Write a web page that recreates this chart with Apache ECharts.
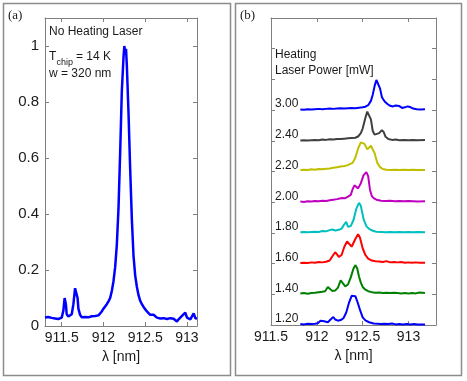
<!DOCTYPE html>
<html>
<head>
<meta charset="utf-8">
<script src="https://cdn.jsdelivr.net/npm/echarts@6/dist/echarts.min.js"></script>
<style>
  html, body { margin: 0; padding: 0; background: #fff; }
  #chart { width: 467px; height: 381px; }
</style>
</head>
<body>
<div id="chart"></div>
<script>
// panel (a): spectrum without heating laser
const leftXTicks = [911.5, 912, 912.5, 913]
const leftYTicks = [0, 0.2, 0.4, 0.6, 0.8, 1]
const noHeating = [
  [911.30, 0.030], [911.32, 0.026], [911.34, 0.032], [911.36, 0.025], [911.38, 0.029],
  [911.40, 0.023], [911.42, 0.027], [911.44, 0.021], [911.46, 0.025], [911.48, 0.028],
  [911.50, 0.030], [911.52, 0.055], [911.535, 0.100], [911.55, 0.078], [911.56, 0.042],
  [911.58, 0.034], [911.60, 0.037], [911.62, 0.042], [911.64, 0.078], [911.66, 0.135],
  [911.675, 0.140], [911.69, 0.100], [911.70, 0.062], [911.72, 0.040], [911.74, 0.031],
  [911.76, 0.037], [911.78, 0.032], [911.80, 0.036], [911.82, 0.031], [911.84, 0.029],
  [911.86, 0.035], [911.88, 0.031], [911.90, 0.036], [911.92, 0.033], [911.94, 0.038],
  [911.96, 0.044], [911.98, 0.052], [912.00, 0.062], [912.02, 0.070], [912.04, 0.078],
  [912.06, 0.088], [912.08, 0.100], [912.10, 0.125], [912.12, 0.160], [912.14, 0.210],
  [912.16, 0.290], [912.18, 0.420], [912.20, 0.620], [912.22, 0.840], [912.24, 0.960],
  [912.25, 1.000], [912.26, 0.975], [912.27, 0.990], [912.28, 0.930], [912.30, 0.760],
  [912.32, 0.560], [912.34, 0.380], [912.36, 0.250], [912.38, 0.180], [912.40, 0.140],
  [912.42, 0.110], [912.44, 0.090], [912.46, 0.078], [912.48, 0.068], [912.50, 0.060],
  [912.52, 0.052], [912.54, 0.046], [912.56, 0.040], [912.58, 0.035], [912.60, 0.040],
  [912.62, 0.033], [912.64, 0.030], [912.66, 0.033], [912.68, 0.027], [912.70, 0.032],
  [912.72, 0.028], [912.74, 0.031], [912.76, 0.025], [912.78, 0.032], [912.80, 0.028],
  [912.82, 0.024], [912.84, 0.026], [912.86, 0.020], [912.88, 0.016], [912.90, 0.024],
  [912.92, 0.030], [912.94, 0.036], [912.96, 0.034], [912.98, 0.048], [913.00, 0.030],
  [913.02, 0.032], [913.04, 0.024], [913.06, 0.030], [913.08, 0.045], [913.10, 0.028],
  [913.12, 0.027]
]

// panel (b): spectra vs heating laser power, stacked one unit apart
const rightXTicks = [911.5, 912, 912.5, 913]
const powerLabels = ['1.20', '1.40', '1.60', '1.80', '2.00', '2.20', '2.40', '3.00', '', '', '']
const traceColors = ['#0000ff', '#008000', '#ff0000', '#00bfbf', '#bf00bf', '#bfbf00', '#404040', '#0000ff']

const p120 = [
  [911.82, 0.03], [911.86, 0.02], [911.90, 0.04], [911.94, 0.03], [911.98, 0.04],
  [912.01, 0.06], [912.04, 0.14], [912.06, 0.20], [912.08, 0.12], [912.10, 0.08],
  [912.12, 0.09], [912.15, 0.18], [912.18, 0.26], [912.20, 0.18], [912.23, 0.14],
  [912.26, 0.16], [912.29, 0.22], [912.32, 0.40], [912.35, 0.72], [912.38, 0.95],
  [912.40, 1.00], [912.42, 0.94], [912.44, 0.78], [912.47, 0.50], [912.50, 0.25],
  [912.53, 0.15], [912.57, 0.09], [912.62, 0.05], [912.66, 0.04], [912.70, 0.03],
  [912.74, 0.04], [912.78, 0.03], [912.82, 0.05], [912.86, 0.02], [912.90, 0.03],
  [912.94, 0.02], [912.98, 0.03], [913.02, 0.02], [913.06, 0.03], [913.10, 0.02],
  [913.14, 0.02], [913.18, 0.02]
]
const p140 = [
  [911.82, 0.03], [911.86, 0.04], [911.90, 0.02], [911.94, 0.04], [911.98, 0.05],
  [912.02, 0.07], [912.06, 0.08], [912.09, 0.10], [912.12, 0.24], [912.14, 0.18],
  [912.17, 0.11], [912.20, 0.12], [912.23, 0.22], [912.26, 0.45], [912.28, 0.40],
  [912.31, 0.26], [912.34, 0.32], [912.37, 0.55], [912.40, 0.84], [912.42, 0.95],
  [912.44, 0.85], [912.46, 0.58], [912.48, 0.38], [912.50, 0.24], [912.53, 0.15],
  [912.56, 0.10], [912.60, 0.07], [912.64, 0.05], [912.68, 0.06], [912.72, 0.04],
  [912.76, 0.05], [912.80, 0.04], [912.84, 0.05], [912.88, 0.04], [912.92, 0.03],
  [912.96, 0.04], [913.00, 0.03], [913.04, 0.04], [913.08, 0.03], [913.12, 0.06],
  [913.14, 0.03], [913.18, 0.04]
]
const p160 = [
  [911.82, 0.02], [911.86, 0.03], [911.90, 0.02], [911.94, 0.04], [911.98, 0.03],
  [912.02, 0.05], [912.06, 0.04], [912.10, 0.06], [912.14, 0.10], [912.17, 0.24],
  [912.20, 0.37], [912.22, 0.30], [912.24, 0.22], [912.27, 0.28], [912.30, 0.55],
  [912.33, 0.72], [912.35, 0.68], [912.38, 0.55], [912.40, 0.58], [912.42, 0.80],
  [912.45, 0.96], [912.47, 0.85], [912.50, 0.50], [912.53, 0.28], [912.56, 0.16],
  [912.60, 0.10], [912.64, 0.08], [912.68, 0.07], [912.72, 0.05], [912.76, 0.08],
  [912.80, 0.04], [912.84, 0.05], [912.88, 0.04], [912.92, 0.05], [912.96, 0.03],
  [913.00, 0.04], [913.04, 0.03], [913.08, 0.04], [913.12, 0.03], [913.18, 0.03]
]
const p180 = [
  [911.82, 0.02], [911.86, 0.03], [911.90, 0.02], [911.94, 0.03], [911.98, 0.04],
  [912.02, 0.03], [912.06, 0.06], [912.10, 0.05], [912.14, 0.09], [912.17, 0.11],
  [912.20, 0.08], [912.24, 0.10], [912.27, 0.14], [912.30, 0.28], [912.32, 0.36],
  [912.34, 0.20], [912.37, 0.22], [912.40, 0.42], [912.43, 0.78], [912.46, 0.98],
  [912.48, 0.88], [912.51, 0.45], [912.54, 0.22], [912.57, 0.13], [912.61, 0.07],
  [912.65, 0.04], [912.70, 0.03], [912.75, 0.02], [912.80, 0.03], [912.85, 0.02],
  [912.90, 0.03], [912.95, 0.02], [913.00, 0.03], [913.05, 0.02], [913.10, 0.03],
  [913.18, 0.02]
]
const p200 = [
  [911.82, 0.02], [911.86, 0.01], [911.90, 0.03], [911.94, 0.02], [911.98, 0.04],
  [912.02, 0.03], [912.06, 0.05], [912.10, 0.04], [912.14, 0.06], [912.18, 0.08],
  [912.22, 0.10], [912.25, 0.12], [912.28, 0.14], [912.31, 0.13], [912.34, 0.18],
  [912.37, 0.24], [912.39, 0.42], [912.41, 0.55], [912.43, 0.50], [912.45, 0.45],
  [912.48, 0.62], [912.51, 0.88], [912.54, 0.98], [912.56, 0.85], [912.58, 0.40],
  [912.60, 0.20], [912.62, 0.13], [912.65, 0.08], [912.70, 0.05], [912.75, 0.04],
  [912.80, 0.05], [912.85, 0.03], [912.90, 0.04], [912.95, 0.03], [913.00, 0.04],
  [913.05, 0.03], [913.10, 0.02], [913.18, 0.03]
]
const p220 = [
  [911.82, 0.05], [911.86, 0.06], [911.90, 0.05], [911.94, 0.07], [911.98, 0.06],
  [912.02, 0.08], [912.06, 0.07], [912.10, 0.09], [912.14, 0.10], [912.18, 0.12],
  [912.22, 0.14], [912.26, 0.16], [912.30, 0.18], [912.33, 0.20], [912.36, 0.24],
  [912.39, 0.28], [912.42, 0.45], [912.45, 0.75], [912.48, 0.95], [912.50, 0.99],
  [912.52, 0.90], [912.55, 0.72], [912.57, 0.70], [912.59, 0.84], [912.61, 0.86],
  [912.63, 0.60], [912.66, 0.28], [912.69, 0.14], [912.72, 0.08], [912.76, 0.06],
  [912.80, 0.05], [912.85, 0.06], [912.90, 0.05], [912.95, 0.06], [913.00, 0.05],
  [913.05, 0.06], [913.10, 0.05], [913.18, 0.05]
]
const p240 = [
  [911.82, 0.01], [911.86, 0.02], [911.90, 0.01], [911.94, 0.02], [911.98, 0.03],
  [912.02, 0.02], [912.06, 0.04], [912.10, 0.03], [912.14, 0.05], [912.18, 0.04],
  [912.22, 0.06], [912.26, 0.06], [912.30, 0.07], [912.34, 0.08], [912.38, 0.09],
  [912.42, 0.10], [912.45, 0.14], [912.48, 0.25], [912.50, 0.40], [912.53, 0.75],
  [912.55, 0.95], [912.57, 0.98], [912.59, 0.70], [912.61, 0.32], [912.63, 0.20],
  [912.65, 0.17], [912.68, 0.25], [912.71, 0.35], [912.73, 0.28], [912.75, 0.13],
  [912.78, 0.06], [912.82, 0.03], [912.86, 0.04], [912.90, 0.02], [912.95, 0.03],
  [913.00, 0.02], [913.05, 0.03], [913.10, 0.02], [913.18, 0.03]
]
const p300 = [
  [911.82, 0.02], [911.86, 0.01], [911.90, 0.03], [911.94, 0.02], [911.98, 0.03],
  [912.02, 0.04], [912.06, 0.03], [912.10, 0.04], [912.14, 0.05], [912.18, 0.04],
  [912.22, 0.05], [912.26, 0.06], [912.30, 0.05], [912.34, 0.06], [912.38, 0.07],
  [912.42, 0.06], [912.46, 0.08], [912.50, 0.09], [912.53, 0.11], [912.56, 0.16],
  [912.59, 0.30], [912.61, 0.50], [912.63, 0.78], [912.65, 0.98], [912.67, 0.95],
  [912.69, 0.70], [912.71, 0.42], [912.74, 0.28], [912.77, 0.20], [912.80, 0.14],
  [912.83, 0.12], [912.86, 0.15], [912.88, 0.18], [912.90, 0.13], [912.93, 0.07],
  [912.96, 0.09], [912.99, 0.12], [913.02, 0.10], [913.05, 0.05], [913.09, 0.03],
  [913.13, 0.02], [913.18, 0.03]
]
const powerTraces = [p120, p140, p160, p180, p200, p220, p240, p300]

const sans = "'Liberation Sans', Arial, sans-serif"
const serif = "'Liberation Serif', 'Times New Roman', serif"
const axisColor = '#808080'
const textColor = '#1a1a1a'

const xAxisBase = (gridIndex, min, max, ticks, position, showLabel) => ({
  type: 'value',
  gridIndex: gridIndex,
  position: position,
  min: min,
  max: max,
  splitLine: { show: false },
  axisLine: { show: true, onZero: false, lineStyle: { color: axisColor, width: 1 } },
  axisTick: { show: true, inside: true, length: 4, customValues: ticks, lineStyle: { color: axisColor } },
  axisLabel: {
    show: showLabel, customValues: ticks, margin: 5,
    color: textColor, fontFamily: sans, fontSize: 14
  },
  name: showLabel ? 'λ [nm]' : '',
  nameLocation: 'middle',
  nameGap: 20,
  nameTextStyle: { color: textColor, fontFamily: sans, fontSize: 14 }
})

const option = {
  animation: false,
  backgroundColor: '#fff',
  grid: [
    { left: 45, top: 18, width: 152, height: 308 },
    { left: 271, top: 18, width: 165, height: 307 }
  ],
  xAxis: [
    xAxisBase(0, 911.3, 913.12, leftXTicks, 'bottom', true),
    xAxisBase(0, 911.3, 913.12, leftXTicks, 'top', false),
    xAxisBase(1, 911.5, 913.3, rightXTicks, 'bottom', true),
    xAxisBase(1, 911.5, 913.3, rightXTicks, 'top', false)
  ],
  yAxis: [
    {
      type: 'value', gridIndex: 0, position: 'left', min: 0, max: 1.1,
      splitLine: { show: false },
      axisLine: { show: true, lineStyle: { color: axisColor } },
      axisTick: { show: true, inside: true, length: 4, customValues: leftYTicks, lineStyle: { color: axisColor } },
      axisLabel: { customValues: leftYTicks, margin: 6, color: textColor, fontFamily: sans, fontSize: 15 }
    },
    {
      type: 'value', gridIndex: 0, position: 'right', min: 0, max: 1.1,
      splitLine: { show: false },
      axisLine: { show: true, lineStyle: { color: axisColor } },
      axisTick: { show: true, inside: true, length: 4, customValues: leftYTicks, lineStyle: { color: axisColor } },
      axisLabel: { show: false }
    },
    {
      type: 'value', gridIndex: 1, position: 'left', min: 0, max: 10, interval: 1,
      splitLine: { show: false },
      axisLine: { show: true, lineStyle: { color: axisColor } },
      axisTick: { show: true, inside: true, length: 4, lineStyle: { color: axisColor } },
      axisLabel: {
        inside: true, margin: 4, color: textColor, fontFamily: sans, fontSize: 12,
        verticalAlign: 'bottom',
        formatter: (v) => powerLabels[Math.round(v)] || ''
      }
    },
    {
      type: 'value', gridIndex: 1, position: 'right', min: 0, max: 10, interval: 1,
      splitLine: { show: false },
      axisLine: { show: true, lineStyle: { color: axisColor } },
      axisTick: { show: true, inside: true, length: 4, lineStyle: { color: axisColor } },
      axisLabel: { show: false }
    }
  ],
  series: [
    {
      type: 'line', xAxisIndex: 0, yAxisIndex: 0, data: noHeating,
      symbol: 'none', lineStyle: { color: '#0000ff', width: 2.5 }, z: 3
    }
  ].concat(powerTraces.map((trace, i) => ({
    type: 'line', xAxisIndex: 2, yAxisIndex: 2,
    data: trace.map((p) => [p[0], p[1] + i]),
    symbol: 'none', lineStyle: { color: traceColors[i], width: 2 }, z: 3
  }))),
  graphic: [
    { type: 'rect', shape: { x: 3.5, y: 3.5, width: 227, height: 372 }, style: { fill: 'none', stroke: '#8c8c8c', lineWidth: 1.5 }, silent: true },
    { type: 'rect', shape: { x: 235.5, y: 3.5, width: 226, height: 372 }, style: { fill: 'none', stroke: '#8c8c8c', lineWidth: 1.5 }, silent: true },
    { type: 'text', style: { text: '(a)', x: 8, y: 16, font: '13px ' + serif, fill: textColor, textVerticalAlign: 'middle', verticalAlign: 'middle' } },
    { type: 'text', style: { text: '(b)', x: 240, y: 16, font: '13px ' + serif, fill: textColor, textVerticalAlign: 'middle', verticalAlign: 'middle' } },
    { type: 'text', style: { text: 'No Heating Laser', x: 49, y: 32, font: '12px ' + sans, fill: textColor, textVerticalAlign: 'middle', verticalAlign: 'middle' } },
    { type: 'text', style: { text: 'T', x: 49, y: 57, font: '12px ' + sans, fill: textColor, textVerticalAlign: 'middle', verticalAlign: 'middle' } },
    { type: 'text', style: { text: 'chip', x: 56.5, y: 63, font: '9px ' + sans, fill: textColor, textVerticalAlign: 'middle', verticalAlign: 'middle' } },
    { type: 'text', style: { text: '= 14 K', x: 76, y: 57, font: '12px ' + sans, fill: textColor, textVerticalAlign: 'middle', verticalAlign: 'middle' } },
    { type: 'text', style: { text: 'w = 320 nm', x: 49, y: 74, font: '12px ' + sans, fill: textColor, textVerticalAlign: 'middle', verticalAlign: 'middle' } },
    { type: 'text', style: { text: 'Heating', x: 275, y: 55, font: '12px ' + sans, fill: textColor, textVerticalAlign: 'middle', verticalAlign: 'middle' } },
    { type: 'text', style: { text: 'Laser Power [mW]', x: 275, y: 71, font: '12px ' + sans, fill: textColor, textVerticalAlign: 'middle', verticalAlign: 'middle' } }
  ]
}

const myChart = echarts.init(document.getElementById('chart'))
myChart.setOption(option)
</script>
</body>
</html>
